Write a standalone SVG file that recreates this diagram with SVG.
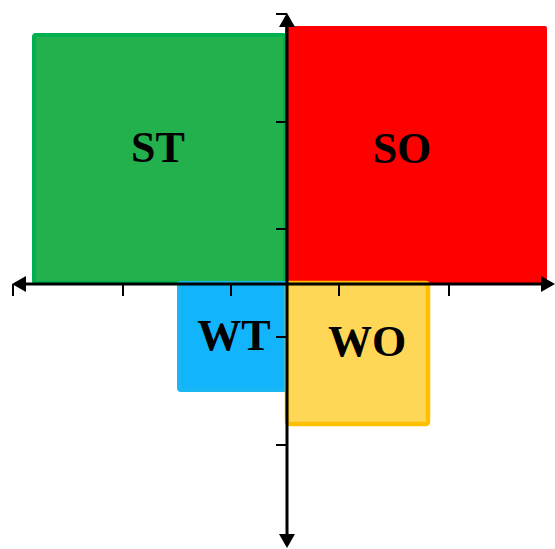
<svg xmlns="http://www.w3.org/2000/svg" width="555" height="549" viewBox="0 0 555 549">
<style>
.lbl{font-family:"Liberation Serif","Times New Roman",serif;font-weight:bold;font-size:44px;fill:#000;text-anchor:middle}
.axis{stroke:#000;stroke-width:3;fill:none}
.tick{stroke:#000;stroke-width:2;fill:none}
</style>
<defs>
<marker id="arr" viewBox="0 0 14 16" refX="11" refY="8" markerWidth="14" markerHeight="16" markerUnits="userSpaceOnUse" orient="auto-start-reverse">
<path d="M0,0 L14,8 L0,16 z" fill="#000"/>
</marker>
</defs>
<rect width="555" height="549" fill="#fff"/>
<g id="ST">
<rect x="34" y="35" width="251" height="248" rx="2" fill="#23B14D" stroke="#00B050" stroke-width="4"/>
<text class="lbl" x="158" y="162">ST</text>
</g>
<g id="SO">
<rect x="285" y="26" width="262" height="258" rx="2" fill="#FF0000"/>
<text class="lbl" x="402" y="163">SO</text>
</g>
<g id="WT">
<rect x="179" y="283" width="108" height="107" rx="2" fill="#12B4FB" stroke="#19B8F2" stroke-width="4"/>
<text class="lbl" x="234" y="350">WT</text>
</g>
<g id="WO">
<rect x="287" y="283" width="141" height="141" rx="2" fill="#FFD757" stroke="#FFC000" stroke-width="4.5"/>
<text class="lbl" x="367" y="356">WO</text>
</g>
<g id="connectors">
<line class="axis" x1="15" y1="284" x2="552" y2="284" marker-start="url(#arr)" marker-end="url(#arr)"/>
<line class="axis" x1="287" y1="16" x2="287" y2="545" marker-start="url(#arr)" marker-end="url(#arr)"/>
<path class="tick" d="M13,284 V296 M123,284 V296 M231,284 V296 M339,284 V296 M449,284 V296"/>
<path class="tick" d="M276,14 H287 M276,122 H287 M276,229 H287 M276,337 H287 M276,445 H287"/>
</g>
</svg>
